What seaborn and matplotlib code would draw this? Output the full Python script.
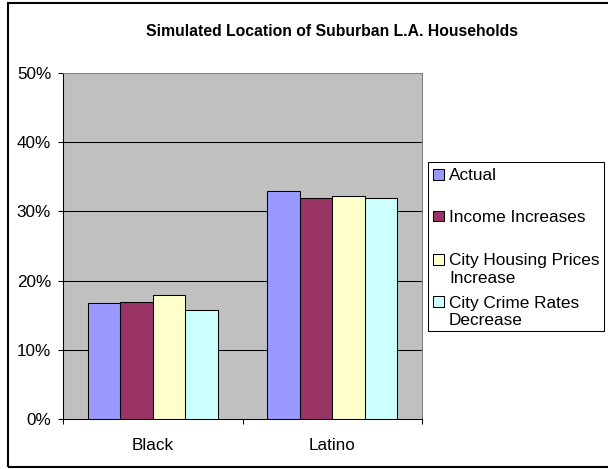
import matplotlib
matplotlib.use("Agg")
import matplotlib.pyplot as plt
import seaborn as sns
import pandas as pd
from matplotlib.patches import Rectangle
from matplotlib.ticker import FuncFormatter, FixedLocator

sns.set_theme(style="white")
plt.rcParams['font.family'] = ['Liberation Sans', 'DejaVu Sans']

categories = ["Black", "Latino"]
series = ["Actual", "Income Increases", "City Housing Prices\nIncrease", "City Crime Rates\nDecrease"]
actual = [16.8, 32.9]
income = [16.9, 32.0]
housing = [17.9, 32.2]
crime = [15.8, 32.0]
colors = ["#9999FF", "#993366", "#FFFFCC", "#CCFFFF"]
yticks = [0, 10, 20, 30, 40, 50]

rows = []
for s, vals in zip(series, [actual, income, housing, crime]):
    for c, v in zip(categories, vals):
        rows.append({"group": c, "scenario": s, "share": v})
df = pd.DataFrame(rows)

W, H = 608, 469
fig = plt.figure(figsize=(W / 100, H / 100), dpi=100)
ax = fig.add_axes([63 / W, (H - 419) / H, (422 - 63) / W, (419 - 73) / H])
ax.set_facecolor("#C0C0C0")

sns.barplot(data=df, x="group", y="share", hue="scenario", hue_order=series,
            palette=colors, saturation=1, order=categories, width=0.724, gap=0,
            edgecolor="black", linewidth=0.75, ax=ax, zorder=3, legend=False)

ax.set_ylim(0, 50)
ax.set_xlim(-0.5, 1.5)
ax.yaxis.set_major_locator(FixedLocator(yticks))
ax.yaxis.set_major_formatter(FuncFormatter(lambda v, p: f"{v:.0f}%"))
for t in yticks[1:-1]:
    ax.axhline(t, color="black", linewidth=0.75, zorder=1)

ax.set_xlabel("")
ax.set_ylabel("")
ax.tick_params(axis="y", which="major", direction="out", length=3.6, width=0.75,
               color="black", labelsize=12.3, pad=5, left=True)
ax.tick_params(axis="x", which="major", length=0, labelsize=12.3, pad=13.4)
ax.set_xticks([-0.5, 0.5, 1.5], minor=True)
ax.tick_params(axis="x", which="minor", direction="out", length=3.6, width=0.75,
               color="black", bottom=True)
for lbl in ax.get_xticklabels() + ax.get_yticklabels():
    lbl.set_color("black")

for side in ["left", "bottom"]:
    ax.spines[side].set_color("black")
    ax.spines[side].set_linewidth(0.75)
for side in ["top", "right"]:
    ax.spines[side].set_color("#808080")
    ax.spines[side].set_linewidth(0.75)

# Legend box drawn with evenly pitched entries; wrapped labels hang below the swatch
def fx(px):
    return px / W

def fy(py):
    return 1 - py / H

fig.patches.append(Rectangle((fx(428), fy(331)), fx(604) - fx(428), fy(162) - fy(331),
                             transform=fig.transFigure, facecolor="white",
                             edgecolor="black", linewidth=0.75))
entry_y = [174.5, 216, 259.5, 301.5]
line_pitch = 17.8
for name, col, yc in zip(series, colors, entry_y):
    fig.patches.append(Rectangle((fx(433), fy(yc + 5.3)), fx(444) - fx(433), 10.6 / H,
                                 transform=fig.transFigure, facecolor=col,
                                 edgecolor="black", linewidth=0.75))
    for i, line in enumerate(name.split("\n")):
        fig.text(fx(449), fy(yc + i * line_pitch), line, ha="left", va="center_baseline",
                 fontsize=12.4, color="black")

fig.text(332 / W, 1 - 32 / H, "Simulated Location of Suburban L.A. Households",
         ha="center", va="center", fontsize=11.3, fontweight="bold", color="black")

fig.patches.append(Rectangle((7.5 / W, 2.5 / H), (W + 10) / W, (H - 2.5 - 3.5) / H,
                             transform=fig.transFigure, fill=False,
                             edgecolor="black", linewidth=1.5))

fig.savefig("out.png", dpi=100)
